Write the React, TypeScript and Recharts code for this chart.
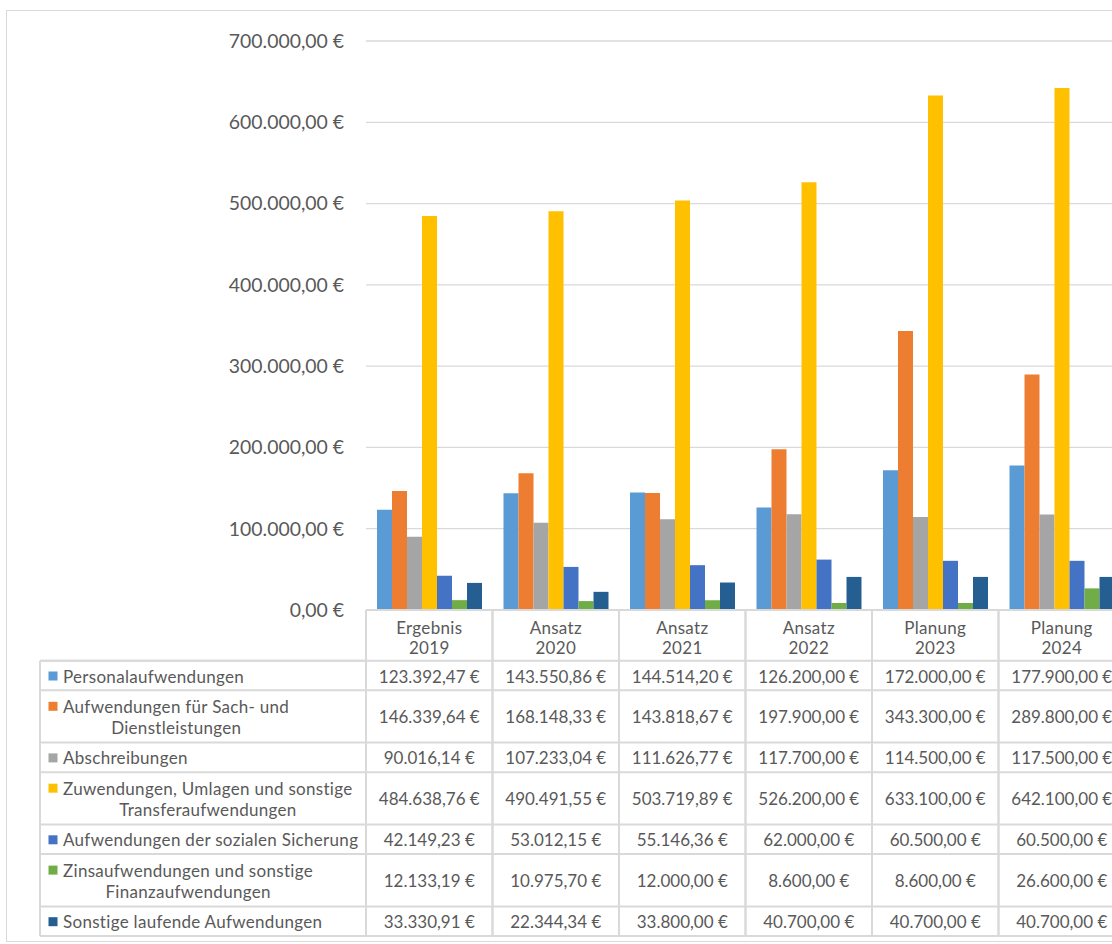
import { Bar, BarChart, CartesianGrid, XAxis, YAxis } from 'recharts'

const KINDS = ['Ergebnis', 'Ansatz', 'Ansatz', 'Ansatz', 'Planung', 'Planung']
const YEARS = ['2019', '2020', '2021', '2022', '2023', '2024']

const SERIES_NAMES = [
  'Personalaufwendungen',
  'Aufwendungen für Sach- und Dienstleistungen',
  'Abschreibungen',
  'Zuwendungen, Umlagen und sonstige Transferaufwendungen',
  'Aufwendungen der sozialen Sicherung',
  'Zinsaufwendungen und sonstige Finanzaufwendungen',
  'Sonstige laufende Aufwendungen'
]

// how Excel wrapped the names in the data table
const SERIES_LINES = [
  ['Personalaufwendungen'],
  ['Aufwendungen für Sach- und', 'Dienstleistungen'],
  ['Abschreibungen'],
  ['Zuwendungen, Umlagen und sonstige', 'Transferaufwendungen'],
  ['Aufwendungen der sozialen Sicherung'],
  ['Zinsaufwendungen und sonstige', 'Finanzaufwendungen'],
  ['Sonstige laufende Aufwendungen']
]

const COLORS = ['#5b9bd5', '#ed7d31', '#a5a5a5', '#ffc000', '#4472c4', '#70ad47', '#255e91']

const personal = [123392.47, 143550.86, 144514.2, 126200, 172000, 177900]
const sachDienst = [146339.64, 168148.33, 143818.67, 197900, 343300, 289800]
const abschreibungen = [90016.14, 107233.04, 111626.77, 117700, 114500, 117500]
const zuwendungen = [484638.76, 490491.55, 503719.89, 526200, 633100, 642100]
const sozialeSicherung = [42149.23, 53012.15, 55146.36, 62000, 60500, 60500]
const zinsen = [12133.19, 10975.7, 12000, 8600, 8600, 26600]
const sonstige = [33330.91, 22344.34, 33800, 40700, 40700, 40700]

const SERIES = [personal, sachDienst, abschreibungen, zuwendungen, sozialeSicherung, zinsen, sonstige]
const Y_TICKS = [0, 100000, 200000, 300000, 400000, 500000, 600000, 700000]

const INK = '#595959'
const RULE = '#d9d9d9'
const FONT = "Lato, 'Open Sans', sans-serif"
const TABLE_SIZE = 17
const LABEL_SPACING = 0.3

const CHART_W = 1140
const CHART_H = 944
const PLOT_LEFT = 366
const PLOT_RIGHT = 1125
const PLOT_TOP = 41
const PLOT_BOTTOM = 610
const BAND = (PLOT_RIGHT - PLOT_LEFT) / KINDS.length
const LABEL_LEFT = 40
const HEADER_H = 50.7
const ROW_ONE = 29.6
const ROW_TWO = 52.3

const chartData = YEARS.map((year, i) => {
  const row: Record<string, string | number> = { cat: `${KINDS[i]} ${year}` }
  SERIES.forEach((values, s) => {
    row[`s${s}`] = values[i]
  })
  return row
})

function euro(v: number): string {
  const [whole, dec] = v.toFixed(2).split('.')
  return whole.replace(/\B(?=(\d{3})+(?!\d))/g, '.') + ',' + dec + ' €'
}

let measureCtx: CanvasRenderingContext2D | null = null
function textWidth(s: string): number {
  if (!measureCtx) measureCtx = document.createElement('canvas').getContext('2d')
  if (!measureCtx) return s.length * 8
  measureCtx.font = `${TABLE_SIZE}px ${FONT}`
  return measureCtx.measureText(s).width + s.length * LABEL_SPACING
}

const rowHeights = SERIES_LINES.map((lines) => (lines.length > 1 ? ROW_TWO : ROW_ONE))

/** One column of the data table below a category, plus the name column for the first one. */
function TableColumn(props: any) {
  const { x, y, payload } = props
  const i: number = payload.index
  const left = x - BAND / 2
  const right = x + BAND / 2
  const top = y
  const bodyTop = top + HEADER_H
  const rowTops: number[] = []
  let acc = bodyTop
  rowHeights.forEach((h) => {
    rowTops.push(acc)
    acc += h
  })
  const bottom = acc
  const textProps = { fill: INK, fontSize: TABLE_SIZE, fontFamily: FONT }
  const labelProps = { ...textProps, letterSpacing: LABEL_SPACING }

  return (
    <g>
      <line x1={left} x2={right} y1={top} y2={top} stroke={RULE} strokeWidth={2} />
      <line x1={left} x2={left} y1={top} y2={bottom} stroke={RULE} strokeWidth={2} />
      <line x1={right} x2={right} y1={top} y2={bottom} stroke={RULE} strokeWidth={2} />
      {rowTops.concat([bottom]).map((ry, k) => (
        <line key={k} x1={left} x2={right} y1={ry} y2={ry} stroke={RULE} strokeWidth={2} />
      ))}
      <text x={x} y={top + 23.5} textAnchor="middle" {...labelProps}>
        {KINDS[i]}
      </text>
      <text x={x} y={top + 43.5} textAnchor="middle" {...labelProps}>
        {YEARS[i]}
      </text>
      {SERIES.map((values, s) => (
        <text key={s} x={x} y={rowTops[s] + rowHeights[s] / 2 + 7} textAnchor="middle" {...textProps}>
          {euro(values[i])}
        </text>
      ))}
      {i === 0 && (
        <g>
          <line x1={LABEL_LEFT} x2={left} y1={bodyTop} y2={bodyTop} stroke={RULE} strokeWidth={2} />
          <line x1={LABEL_LEFT} x2={LABEL_LEFT} y1={bodyTop} y2={bottom} stroke={RULE} strokeWidth={2} />
          {rowTops.concat([bottom]).map((ry, k) => (
            <line key={k} x1={LABEL_LEFT} x2={left} y1={ry} y2={ry} stroke={RULE} strokeWidth={2} />
          ))}
          {SERIES_LINES.map((lines, s) => {
            const first = rowTops[s] + (lines.length > 1 ? 22.5 : rowHeights[s] / 2 + 7)
            const center = LABEL_LEFT + 23 + textWidth(lines[0]) / 2
            return (
              <g key={s}>
                <rect x={LABEL_LEFT + 8.5} y={first - 11} width={9} height={9} fill={COLORS[s]} />
                <text x={LABEL_LEFT + 23} y={first} {...labelProps}>
                  {lines[0]}
                </text>
                {lines.length > 1 && (
                  <text x={center} y={first + 21} textAnchor="middle" {...labelProps}>
                    {lines[1]}
                  </text>
                )}
              </g>
            )
          })}
        </g>
      )}
    </g>
  )
}

export default function App() {
  return (
    <div
      style={{
        position: 'absolute',
        left: 0,
        top: 0,
        width: 1112,
        height: 944,
        overflow: 'hidden',
        background: '#ffffff'
      }}
    >
      <div
        style={{
          position: 'absolute',
          left: 6,
          top: 10,
          width: 1200,
          height: 930,
          border: `1px solid ${RULE}`
        }}
      />
      <div style={{ position: 'absolute', left: 0, top: 0 }}>
        <BarChart
          width={CHART_W}
          height={CHART_H}
          data={chartData}
          margin={{ top: PLOT_TOP, right: CHART_W - PLOT_RIGHT, bottom: 0, left: 0 }}
          barGap={0}
          barSize={15}
        >
          <CartesianGrid vertical={false} stroke={RULE} strokeWidth={1.3} />
          <XAxis
            dataKey="cat"
            height={CHART_H - PLOT_BOTTOM}
            axisLine={false}
            tickLine={false}
            tickSize={0}
            tickMargin={0}
            interval={0}
            tick={<TableColumn />}
          />
          <YAxis
            width={PLOT_LEFT}
            domain={[0, 700000]}
            ticks={Y_TICKS}
            axisLine={false}
            tickLine={false}
            tickSize={0}
            tickMargin={22}
            tickFormatter={(v: number) => euro(v)}
            tick={{ fill: INK, fontSize: 19.4, fontFamily: FONT }}
          />
          {SERIES_NAMES.map((name, s) => (
            <Bar key={name} dataKey={`s${s}`} name={name} fill={COLORS[s]} isAnimationActive={false} />
          ))}
        </BarChart>
      </div>
    </div>
  )
}
